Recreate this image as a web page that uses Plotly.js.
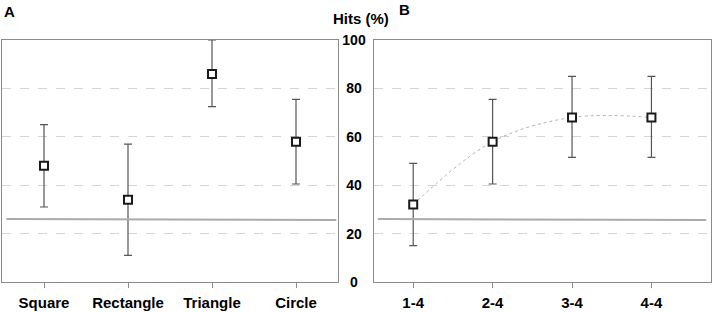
<!DOCTYPE html>
<html>
<head>
<meta charset="utf-8">
<script src="https://cdn.plot.ly/plotly-3.0.1.min.js"></script>
<style>html,body{margin:0;padding:0;background:#fff;}#chart{width:713px;height:312px;}</style>
</head>
<body>
<div id="chart"></div>
<script>
// Panel A data
const shapesCats = ["Square", "Rectangle", "Triangle", "Circle"];
const shapesHits = [48, 34, 86, 58];
const shapesErrPlus = [17, 23, 14, 17.5];
const shapesErrMinus = [17, 23, 13.5, 17.5];

// Panel B data
const countCats = ["1-4", "2-4", "3-4", "4-4"];
const countHits = [32, 58, 68, 68];
const countErrPlus = [17, 17.5, 17, 17];
const countErrMinus = [17, 17.5, 16.5, 16.5];

// Chance level (start, end)
const chanceLevel = [26, 25.6];

// Y axis ticks
const yTickVals = [0, 20, 40, 60, 80, 100];
const yTickText = ["0\u00a0\u00a0", "20\u00a0", "40\u00a0", "60\u00a0", "80\u00a0", "100"];

const FONT = "Arial, 'Liberation Sans', sans-serif";
const markerStyle = {symbol: "square", size: 8, color: "#fff", line: {color: "#1a1a1a", width: 2}};
const errStyle = {type: "data", symmetric: false, color: "#555", thickness: 1.2, width: 4};

const traces = [
  {
    x: shapesCats, y: shapesHits, xaxis: "x", yaxis: "y",
    type: "scatter", mode: "markers", marker: markerStyle,
    error_y: Object.assign({array: shapesErrPlus, arrayminus: shapesErrMinus}, errStyle),
    showlegend: false, cliponaxis: false
  },
  {
    x: countCats, y: countHits, xaxis: "x2", yaxis: "y2",
    type: "scatter", mode: "lines",
    line: {color: "#b0b0b0", width: 1, dash: "dot", shape: "spline"},
    showlegend: false
  },
  {
    x: countCats, y: countHits, xaxis: "x2", yaxis: "y2",
    type: "scatter", mode: "markers", marker: markerStyle,
    error_y: Object.assign({array: countErrPlus, arrayminus: countErrMinus}, errStyle),
    showlegend: false, cliponaxis: false
  }
];

const xCommon = {
  type: "category", showline: true, mirror: true, linecolor: "#8a8a8a", linewidth: 1,
  ticks: "outside", ticklen: 5, tickcolor: "#8a8a8a", tickwidth: 1,
  showgrid: false, zeroline: false, ticklabelstandoff: 2,
  tickfont: {family: FONT, size: 15, color: "#000", weight: "bold"},
  fixedrange: true
};
const yCommon = {
  range: [0, 100], showline: true, mirror: true, linecolor: "#8a8a8a", linewidth: 1,
  showgrid: true, gridcolor: "#d4d4d4", griddash: "dash", gridwidth: 1,
  zeroline: false, ticks: "", tickvals: yTickVals, fixedrange: true
};

const layout = {
  width: 713, height: 312,
  margin: {l: 0, r: 0, t: 40, b: 30},
  paper_bgcolor: "#fff", plot_bgcolor: "#fff",
  showlegend: false,
  xaxis: Object.assign({}, xCommon, {domain: [2/713, 338/713], range: [-0.5, 3.5], anchor: "y"}),
  yaxis: Object.assign({}, yCommon, {domain: [0, 1], anchor: "x", showticklabels: false}),
  xaxis2: Object.assign({}, xCommon, {domain: [373.5/713, 711/713], range: [-0.5, 3.75], anchor: "y2"}),
  yaxis2: Object.assign({}, yCommon, {domain: [0, 1], anchor: "x2", showticklabels: true,
    ticktext: yTickText, ticklabelstandoff: 4,
    tickfont: {family: FONT, size: 14, color: "#000", weight: "bold"}}),
  shapes: [
    {type: "line", xref: "x domain", yref: "y", x0: 0.013, x1: 0.995, y0: chanceLevel[0], y1: chanceLevel[1],
     line: {color: "#aaa", width: 2}, layer: "above"},
    {type: "line", xref: "x2 domain", yref: "y2", x0: 0.013, x1: 0.986, y0: chanceLevel[0], y1: chanceLevel[1],
     line: {color: "#aaa", width: 2}, layer: "above"}
  ],
  annotations: [
    {text: "Hits (%)", xref: "paper", yref: "paper", x: 361/713, y: 1 + 22/242, xanchor: "center", yanchor: "middle",
     showarrow: false, font: {family: FONT, size: 15, color: "#000", weight: "bold"}},
    {text: "A", xref: "paper", yref: "paper", x: 2/713, y: 1 + 29/242, xanchor: "left", yanchor: "middle",
     showarrow: false, font: {family: FONT, size: 15, color: "#000", weight: "bold"}},
    {text: "B", xref: "paper", yref: "paper", x: 397/713, y: 1 + 30/242, xanchor: "left", yanchor: "middle",
     showarrow: false, font: {family: FONT, size: 15, color: "#000", weight: "bold"}}
  ]
};

Plotly.newPlot("chart", traces, layout, {displayModeBar: false, staticPlot: true});
</script>
</body>
</html>
